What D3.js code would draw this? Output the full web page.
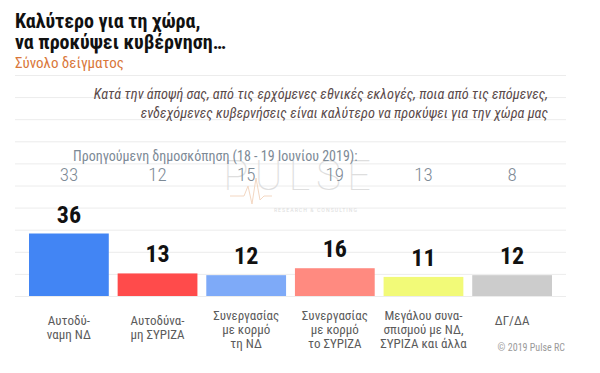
<!DOCTYPE html>
<html>
  <head>
    <meta charset="utf-8">
    <script src="https://d3js.org/d3.v7.min.js"></script>
    <style>
      body { margin: 0; background: #fff; }
      svg { display: block; font-family: "Roboto Condensed", "Liberation Sans Narrow", "DejaVu Sans Condensed", Roboto, sans-serif; }
      .grid line { stroke: #ececec; stroke-width: 1; }
      .title { font-size: 20px; font-weight: bold; fill: #111; }
      .subtitle { font-size: 15px; fill: #d9773a; }
      .question { font-size: 14.3px; font-style: italic; fill: #5a4a4a; }
      .prev-title { font-size: 14px; fill: #7d8a96; }
      .prev { font-size: 19px; font-weight: 300; fill: #7d8a96; }
      .value { font-size: 24px; font-weight: bold; fill: #111; }
      .cat { font-size: 13px; fill: #5b5b5b; }
      .credit { font-size: 10px; fill: #9a9a9a; }
      .wm { fill: #dedede; }
    </style>
  </head>
  <body>
    <svg width="600" height="373"></svg>

    <script>
      // data
      const categories = ["ND", "SYRIZA", "coopND", "coopSYRIZA", "grand", "dk"];
      const catLabels = [
        ["Αυτοδύ-", "ναμη ΝΔ"],
        ["Αυτοδύνα-", "μη ΣΥΡΙΖΑ"],
        ["Συνεργασίας", "με κορμό", "τη ΝΔ"],
        ["Συνεργασίας", "με κορμό", "το ΣΥΡΙΖΑ"],
        ["Μεγάλου συνα-", "σπισμού με ΝΔ,", "ΣΥΡΙΖΑ και άλλα"],
        ["ΔΓ/ΔΑ"]
      ];
      const values = [36, 13, 12, 16, 11, 12];
      const previous = [33, 12, 15, 19, 13, 8];
      const colors = ["#4285f4", "#ff4b4b", "#7eaaf8", "#ff8a80", "#f2fa78", "#cccccc"];
      const gridTicks = d3.range(11);

      const titleLines = ["Καλύτερο για τη χώρα,", "να προκύψει κυβέρνηση…"];
      const subtitle = "Σύνολο δείγματος";
      const questionLines = [
        "Κατά την άποψή σας, από τις ερχόμενες εθνικές εκλογές, ποια από τις επόμενες,",
        "ενδεχόμενες κυβερνήσεις είναι καλύτερο να προκύψει για την χώρα μας"
      ];
      const prevTitle = "Προηγούμενη δημοσκόπηση (18 - 19 Ιουνίου 2019):";

      function main(){
        const svg = d3.select("svg");

        const x = d3.scaleBand().domain(categories).range([29, 552]).paddingInner(0.1).paddingOuter(0);
        const y = d3.scaleLinear().domain([0, 36]).range([296, 233.5]);
        const gridY = d3.scaleLinear().domain([0, 10]).range([296.5, 75.5]);

        // faint gridlines
        svg.append("g").attr("class", "grid")
          .selectAll("line").data(gridTicks).join("line")
            .attr("x1", 15).attr("x2", 566)
            .attr("y1", d => gridY(d)).attr("y2", d => gridY(d));

        // watermark
        const wm = svg.append("g");
        wm.append("text").attr("class", "wm")
          .attr("x", 300).attr("y", 190).attr("text-anchor", "middle")
          .style("font-family", "Roboto, sans-serif").style("font-weight", 100)
          .style("font-size", "42px").style("letter-spacing", "6px")
          .text("PULSE");
        wm.append("text").attr("class", "wm")
          .attr("x", 316).attr("y", 212).attr("text-anchor", "middle")
          .style("font-size", "6px").style("letter-spacing", "1px")
          .text("RESEARCH & CONSULTING");
        wm.append("path")
          .attr("d", "M230,196 L244,196 L248,186 L252,204 L256,178 L260,200 L264,196 L272,196")
          .attr("fill", "none").attr("stroke", "#f3d7c2").attr("stroke-width", 1);

        // header
        svg.append("text").attr("class", "title")
          .selectAll("tspan").data(titleLines).join("tspan")
            .attr("x", 15).attr("y", (d, i) => 28 + i * 21).text(d => d);
        svg.append("text").attr("class", "subtitle").attr("x", 15).attr("y", 68).text(subtitle);

        svg.append("text").attr("class", "question").attr("text-anchor", "end")
          .selectAll("tspan").data(questionLines).join("tspan")
            .attr("x", 548).attr("y", (d, i) => 99 + i * 19).text(d => d);

        svg.append("text").attr("class", "prev-title").attr("x", 73).attr("y", 161).text(prevTitle);

        // previous poll numbers
        svg.append("g").selectAll("text").data(previous).join("text")
          .attr("class", "prev").attr("text-anchor", "middle")
          .attr("x", (d, i) => x(categories[i]) + x.bandwidth() / 2)
          .attr("y", 181)
          .text(d => d);

        // bars
        svg.append("g").selectAll("rect").data(values).join("rect")
          .attr("x", (d, i) => x(categories[i]))
          .attr("width", x.bandwidth())
          .attr("y", d => y(d))
          .attr("height", d => y(0) - y(d))
          .attr("fill", (d, i) => colors[i]);

        svg.append("g").selectAll("text").data(values).join("text")
          .attr("class", "value").attr("text-anchor", "middle")
          .attr("x", (d, i) => x(categories[i]) + x.bandwidth() / 2)
          .attr("y", d => y(d) - 11)
          .text(d => d);

        // category labels
        const cat = svg.append("g").selectAll("text").data(catLabels).join("text")
          .attr("class", "cat").attr("text-anchor", "middle");
        cat.selectAll("tspan").data((d, i) => d.map(t => ({ t, i, n: d.length }))).join("tspan")
          .attr("x", d => x(categories[d.i]) + x.bandwidth() / 2)
          .attr("y", (d, j) => (d.n > 2 ? 320 : 325) + j * 14)
          .text(d => d.t);

        svg.append("text").attr("class", "credit").attr("text-anchor", "end")
          .attr("x", 565).attr("y", 351).text("© 2019 Pulse RC");
      }
      main();
    </script>
  </body>
</html>
